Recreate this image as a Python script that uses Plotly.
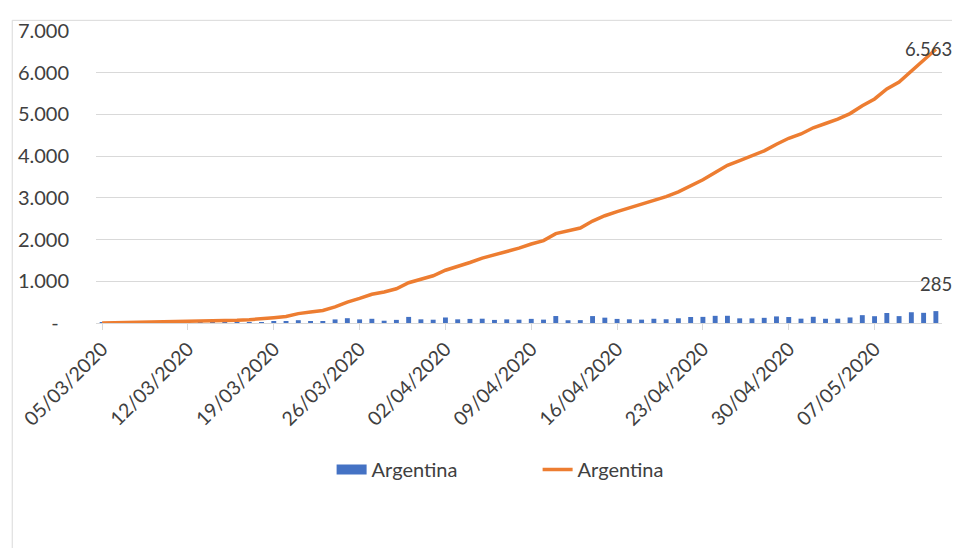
import pandas as pd
import plotly.graph_objects as go

# Categories: one per day, 05/03/2020 .. 12/05/2020
dates = [d.strftime("%d/%m/%Y") for d in pd.date_range("2020-03-05", "2020-05-12", freq="D")]

# Cumulative confirmed cases (line)
cumulative = [
    2, 8, 9, 12, 17, 19, 21, 31, 34, 45, 56, 65, 79, 97, 128, 158, 225, 266, 301, 387,
    502, 589, 690, 745, 820, 966, 1054, 1133, 1265, 1353, 1451, 1554, 1628, 1715, 1795,
    1894, 1975, 2142, 2208, 2277, 2443, 2571, 2669, 2758, 2839, 2941, 3031, 3144, 3288,
    3435, 3607, 3780, 3892, 4003, 4127, 4285, 4428, 4532, 4681, 4783, 4887, 5020, 5208,
    5371, 5611, 5776, 6034, 6278, 6563,
]

# Daily new cases (bars)
daily = [
    1, 6, 1, 3, 5, 2, 2, 10, 3, 11, 11, 9, 14, 18, 31, 30, 67, 41, 35, 86,
    115, 87, 101, 55, 75, 146, 88, 79, 132, 88, 98, 103, 74, 87, 80,
    99, 81, 167, 66, 69, 166, 128, 98, 89, 81, 102, 90, 113, 144,
    147, 172, 173, 112, 111, 124, 158, 143, 104, 149, 102, 104, 133, 188,
    163, 240, 165, 258, 244, 285,
]

series_name = "Argentina"
y_ticks = [0, 1000, 2000, 3000, 4000, 5000, 6000, 7000]


def fmt(v):
    return f"{v:,}".replace(",", ".")


y_ticktext = ["-\u00a0\u00a0" if v == 0 else fmt(v) for v in y_ticks]
x_tickvals = dates[::7]

FONT = "Lato"
TXT = "#404040"
GRID = "#d9d9d9"
BLUE = "#4472C4"
ORANGE = "#ED7D31"

fig = go.Figure()
fig.add_trace(go.Bar(
    x=dates, y=daily, name=series_name, showlegend=False, legendgroup="bars",
    marker=dict(color=BLUE, line=dict(width=0)),
))
# legend-only entry so the bar key is drawn as a wide block, like the original
fig.add_trace(go.Scatter(
    x=[None], y=[None], name=series_name, mode="lines", legendgroup="bars",
    line=dict(color=BLUE, width=13), hoverinfo="skip",
))
fig.add_trace(go.Scatter(
    x=dates, y=cumulative, name=series_name, mode="lines",
    line=dict(color=ORANGE, width=3.5),
))

fig.add_annotation(x=dates[-1], y=cumulative[-1], text=fmt(cumulative[-1]),
                   showarrow=False, xshift=-7, yshift=0,
                   font=dict(family=FONT, size=18.5, color=TXT))
fig.add_annotation(x=dates[-1], y=daily[-1], text=fmt(daily[-1]),
                   showarrow=False, yanchor="bottom", yshift=14,
                   font=dict(family=FONT, size=18.5, color=TXT))

# chart-area border
fig.add_shape(type="rect", xref="paper", yref="paper",
              x0=-0.099, x1=1.08, y0=-1.2, y1=1.0365,
              line=dict(color=GRID, width=1), fillcolor="rgba(0,0,0,0)", layer="below")

# page body adds an 8px margin on every side, so the figure is 944x540
fig.update_layout(
    width=944, height=540,
    margin=dict(l=86, r=10, t=14, b=225),
    paper_bgcolor="white", plot_bgcolor="white",
    bargap=0.6,
    font=dict(family=FONT, size=20, color=TXT),
    showlegend=True,
    legend=dict(orientation="h", x=0.522, xanchor="center", y=-0.5017, yanchor="middle",
                font=dict(family=FONT, size=20, color=TXT), entrywidth=161,
                bgcolor="rgba(0,0,0,0)"),
    xaxis=dict(
        type="category", tickmode="array", tickvals=x_tickvals, ticktext=x_tickvals,
        tickangle=-45, showgrid=False, showline=True, linecolor=GRID, linewidth=1,
        ticks="outside", ticklen=6, tickcolor=GRID,
        tickfont=dict(family=FONT, size=19.5, color=TXT),
        range=[-0.5, len(dates) - 0.5],
    ),
    yaxis=dict(
        range=[0, 7000], tickmode="array", tickvals=y_ticks, ticktext=y_ticktext,
        showgrid=True, gridcolor=GRID, gridwidth=1, zeroline=False, showline=False,
        ticks="", ticklabelstandoff=26,
        tickfont=dict(family=FONT, size=20, color=TXT),
    ),
)

fig.write_html("out.html")
